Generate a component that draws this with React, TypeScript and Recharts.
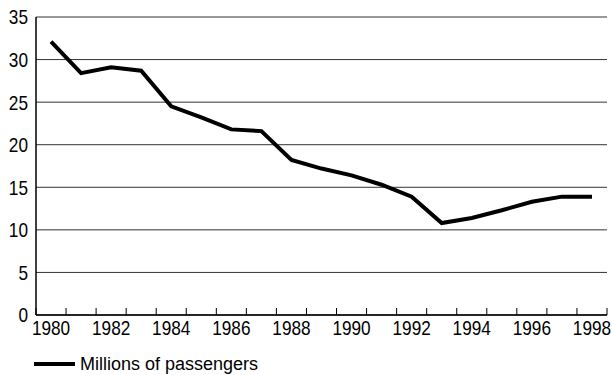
import { LineChart, Line, XAxis, YAxis, CartesianGrid, Legend } from "recharts";

const years = [
  1980, 1981, 1982, 1983, 1984, 1985, 1986, 1987, 1988, 1989,
  1990, 1991, 1992, 1993, 1994, 1995, 1996, 1997, 1998,
];
const passengers = [
  32.1, 28.4, 29.1, 28.7, 24.5, 23.2, 21.8, 21.6, 18.2, 17.2,
  16.4, 15.3, 13.9, 10.8, 11.4, 12.3, 13.3, 13.9, 13.9,
];
const yearLabels = [1980, 1982, 1984, 1986, 1988, 1990, 1992, 1994, 1996, 1998];
const yTicks = [0, 5, 10, 15, 20, 25, 30, 35];

const data = years.map((year, i) => ({ year, passengers: passengers[i] }));
// tick marks sit between the years
const boundaries = [...years.map((y) => y - 0.5), 1998.5];

const FONT = '"Liberation Sans", Arial, sans-serif';

// narrow-looking tick text (no Arial Narrow available)
function NarrowTick(props: any) {
  const { x, y, payload, textAnchor, dy } = props;
  return (
    <text
      transform={`translate(${x},${y}) scale(0.82,1)`}
      textAnchor={textAnchor}
      dy={dy}
      fill="#000"
      fontSize={21}
      fontFamily={FONT}
    >
      {payload.value}
    </text>
  );
}

// short inward tick mark at each year boundary
function BoundaryTick(props: any) {
  const { x, y } = props;
  return <line x1={x} x2={x} y1={y} y2={y - 7} stroke="#000" strokeWidth={1} />;
}

function LegendContent() {
  return (
    <div
      style={{
        height: 20,
        paddingTop: 19,
        paddingLeft: 34,
        display: "flex",
        alignItems: "center",
        fontFamily: FONT,
        fontSize: 18,
        color: "#000",
      }}
    >
      <span style={{ width: 41, height: 4, background: "#000", marginRight: 5 }} />
      <span>Millions of passengers</span>
    </div>
  );
}

export default function App() {
  return (
    <div style={{ position: "absolute", left: 0, top: 0, background: "#fff" }}>
      <LineChart
        width={612}
        height={375}
        data={data}
        margin={{ top: 17, right: 5, bottom: 0, left: 0 }}
      >
        <CartesianGrid
          xAxisId="boundary"
          vertical={false}
          stroke="#333"
          strokeWidth={1}
        />
        <XAxis
          xAxisId="boundary"
          dataKey="year"
          type="number"
          domain={[1979.5, 1998.5]}
          ticks={boundaries}
          tickSize={0}
          tickMargin={0}
          tickLine={false}
          height={1}
          interval={0}
          axisLine={{ stroke: "#000", strokeWidth: 1.5 }}
          tick={<BoundaryTick />}
        />
        <XAxis
          xAxisId="labels"
          dataKey="year"
          type="number"
          domain={[1979.5, 1998.5]}
          ticks={yearLabels}
          axisLine={false}
          tickLine={false}
          tickSize={0}
          tickMargin={4}
          height={19}
          interval={0}
          tick={<NarrowTick dy="0.71em" />}
        />
        <YAxis
          domain={[0, 35]}
          ticks={yTicks}
          width={36}
          tickLine={false}
          tickSize={0}
          tickMargin={8}
          interval={0}
          axisLine={{ stroke: "#000", strokeWidth: 1.5 }}
          tick={<NarrowTick dy="0.355em" />}
        />
        <Legend
          verticalAlign="bottom"
          align="left"
          height={40}
          content={<LegendContent />}
        />
        <Line
          xAxisId="boundary"
          dataKey="passengers"
          stroke="#000"
          strokeWidth={4}
          dot={false}
          strokeLinejoin="miter"
          isAnimationActive={false}
        />
      </LineChart>
    </div>
  );
}
